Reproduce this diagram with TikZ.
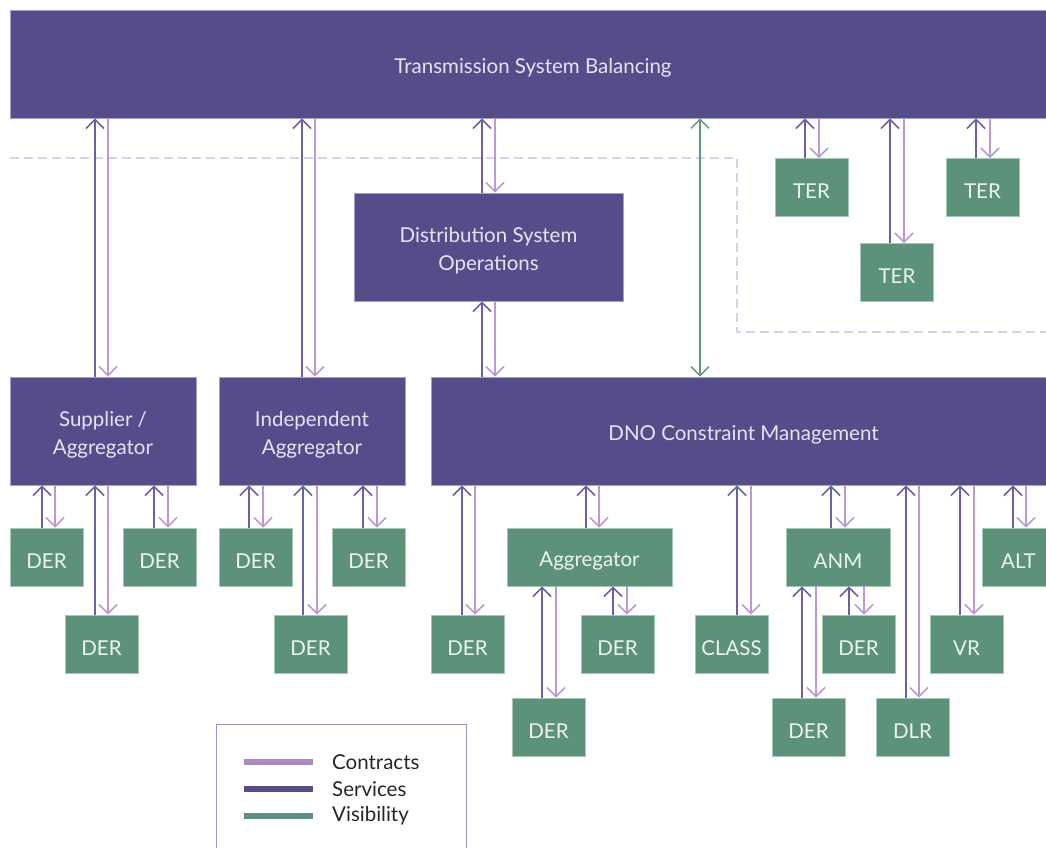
\documentclass[tikz,border=0pt]{standalone}
\usepackage{fontspec}
\setmainfont{Lato}
\usetikzlibrary{arrows.meta}

\definecolor{boxpurple}{HTML}{554C8A}
\definecolor{boxedge}{HTML}{A69ED0}
\definecolor{boxgreen}{HTML}{5C917A}
\definecolor{greenedge}{HTML}{A3C8B4}
\definecolor{svccol}{HTML}{6A60A6}
\definecolor{ctrcol}{HTML}{BE98D4}
\definecolor{viscol}{HTML}{5C9A7E}
\definecolor{dashcol}{HTML}{D6D2EA}
\definecolor{legedge}{HTML}{9C93C9}
\definecolor{lightpurpletext}{HTML}{E8E4F5}
\definecolor{lightgreentext}{HTML}{EEF4EF}

\tikzset{
  pbox/.style={rectangle, inner sep=0pt, fill=boxpurple, draw=boxedge, line width=0.8pt},
  gbox/.style={rectangle, inner sep=0pt, fill=boxgreen, draw=greenedge, line width=0.8pt,
    minimum width=73pt, minimum height=58pt},
  boxtext/.style={inner sep=0pt, align=center, yshift=-4pt,
    font=\fontsize{20.5}{28}\selectfont},
  ptext/.style={boxtext, text=lightpurpletext},
  gtext/.style={boxtext, text=lightgreentext},
  svc/.style={draw=svccol, line width=1.8pt,
    -{Straight Barb[length=9pt,width=18pt,line width=1.6pt]}},
  ctr/.style={draw=ctrcol, line width=1.6pt,
    -{Straight Barb[length=9pt,width=18pt,line width=1.6pt]}},
  vis/.style={draw=viscol, line width=1.4pt,
    {Straight Barb[length=9pt,width=18pt,line width=1.4pt]}-{Straight Barb[length=9pt,width=18pt,line width=1.4pt]}},
  zone/.style={draw=dashcol, line width=2.6pt, dash pattern=on 9pt off 5pt},
  legline/.style={line width=6pt},
  legtext/.style={anchor=west, inner sep=0pt, font=\fontsize{20.5}{24}\selectfont, text=black!85},
}

% a green resource box with its caption
\newcommand\resbox[4][]{%
  \node[gbox, #1, label={[gtext]center:#4}] (#2) at (#3) {};
}

% services upwards at x=#3, contracts downwards at x=#4
\newcommand\duallink[4]{%
  \draw[svc] (#1.north -| #3,0) -- (#2.south -| #3,0);
  \draw[ctr] (#2.south -| #4,0) -- (#1.north -| #4,0);
}

\begin{document}
\begin{tikzpicture}[x=1pt, y=-1pt]
\useasboundingbox (0,0) rectangle (1046,847);

% dashed boundary of the transmission zone
\draw[zone] (10,158) -- (737,158) -- (737,332) -- (1060,332);

% system level boxes
\node[pbox, minimum width=1046pt, minimum height=108pt,
  label={[ptext]center:Transmission System Balancing}] (tsb) at (533,64) {};
\node[pbox, minimum width=269pt, minimum height=108pt,
  label={[ptext]center:Distribution System\\Operations}] (dso) at (488.5,247) {};
\node[pbox, minimum width=186pt, minimum height=108pt,
  label={[ptext]center:Supplier /\\Aggregator}] (sa) at (103,431) {};
\node[pbox, minimum width=186pt, minimum height=108pt,
  label={[ptext]center:Independent\\Aggregator}] (ia) at (312,431) {};
\node[pbox, minimum width=625pt, minimum height=108pt,
  label={[ptext]center:DNO Constraint Management}] (dno) at (743.5,431) {};

% transmission-connected resources
\resbox{ter1}{811.5,187.5}{TER}
\resbox{ter2}{897,272.5}{TER}
\resbox{ter3}{982.5,187.5}{TER}

% supplier / aggregator resources
\resbox{der1}{46.5,557}{DER}
\resbox{der2}{101.5,644}{DER}
\resbox{der3}{159.5,557}{DER}

% independent aggregator resources
\resbox{der4}{255.5,557}{DER}
\resbox{der5}{310.5,644}{DER}
\resbox{der6}{368.5,557}{DER}

% DNO constraint management participants
\resbox{der7}{467.5,644}{DER}
\resbox[minimum width=165pt]{agg}{589.5,557}{Aggregator}
\resbox{der8}{548.5,727}{DER}
\resbox{der9}{617.5,644}{DER}
\resbox{class}{731.5,644}{CLASS}
\resbox[minimum width=104pt]{anm}{838,557}{ANM}
\resbox{der10}{808.5,727}{DER}
\resbox{der11}{858.5,644}{DER}
\resbox{dlr}{912.5,727}{DLR}
\resbox{vr}{966.5,644}{VR}
\resbox{alt}{1018.5,557}{ALT}

% links to transmission system balancing
\duallink{sa}{tsb}{95}{108}
\duallink{ia}{tsb}{302}{315}
\duallink{dso}{tsb}{482}{495}
\duallink{dno}{dso}{482}{495}
\duallink{ter1}{tsb}{805}{819}
\duallink{ter2}{tsb}{890}{904}
\duallink{ter3}{tsb}{976}{990}
\draw[vis] (tsb.south -| 700,0) -- (dno.north -| 700,0);

% supplier / aggregator links
\duallink{der1}{sa}{42}{55}
\duallink{der2}{sa}{95}{108}
\duallink{der3}{sa}{154}{168}

% independent aggregator links
\duallink{der4}{ia}{249}{263}
\duallink{der5}{ia}{303}{317}
\duallink{der6}{ia}{363}{377}

% DNO constraint management links
\duallink{der7}{dno}{462}{475}
\duallink{agg}{dno}{586}{599}
\duallink{der8}{agg}{542}{556}
\duallink{der9}{agg}{613}{627}
\duallink{class}{dno}{737}{751}
\duallink{anm}{dno}{831}{845}
\duallink{der10}{anm}{802}{816}
\duallink{der11}{anm}{849}{864}
\duallink{dlr}{dno}{906}{919}
\duallink{vr}{dno}{960}{974}
\duallink{alt}{dno}{1013}{1026}

% legend
\draw[draw=legedge, line width=1pt] (216,860) -- (216,724) -- (466,724) -- (466,860);
\coordinate (lc0) at (244,762); \coordinate (lc1) at (313,762);
\coordinate (ls0) at (244,789); \coordinate (ls1) at (313,789);
\coordinate (lv0) at (244,816); \coordinate (lv1) at (313,816);
\draw[legline, draw=ctrcol!90!black] (lc0) -- (lc1);
\draw[legline, draw=boxpurple] (ls0) -- (ls1);
\draw[legline, draw=boxgreen] (lv0) -- (lv1);
\node[legtext] (tc) at (332,762) {Contracts};
\node[legtext] (ts) at (332,789) {Services};
\node[legtext] (tv) at (332,816) {Visibility};
\end{tikzpicture}
\end{document}
